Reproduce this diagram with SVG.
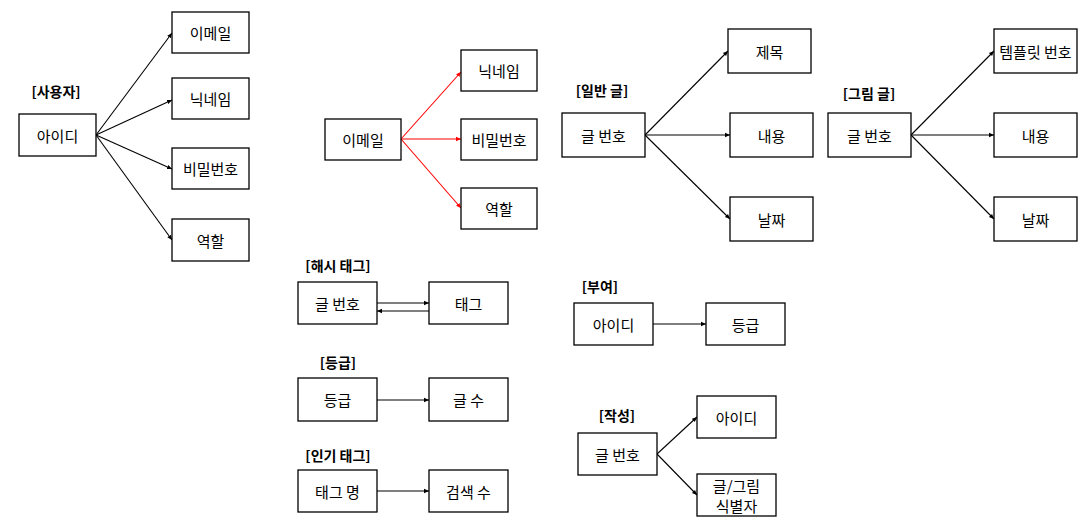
<svg xmlns="http://www.w3.org/2000/svg" width="1085" height="520" viewBox="0 0 1085 520">
<style>
.n rect{fill:#fff;stroke:#000;stroke-width:1.3}
.n text,.lb{font-family:"Noto Sans CJK KR","Noto Sans",sans-serif;font-size:15px;fill:#000;text-anchor:middle;dominant-baseline:central}
.lb{font-weight:bold;font-size:14px}
.c line{stroke:#000;stroke-width:1.1;marker-end:url(#ah)}
.c line.r{stroke:#f00;marker-end:url(#ahr)}
</style>
<defs>
<marker id="ah" markerWidth="6" markerHeight="6" refX="5" refY="3" orient="auto" markerUnits="userSpaceOnUse"><path d="M0,0.8 L5,3 L0,5.2z" fill="#000"/></marker>
<marker id="ahr" markerWidth="6" markerHeight="6" refX="5" refY="3" orient="auto" markerUnits="userSpaceOnUse"><path d="M0,0.8 L5,3 L0,5.2z" fill="#f00"/></marker>
</defs>
<rect width="1085" height="520" fill="#fff"/>
<g id="labels">
<text class="lb" x="56" y="91">[사용자]</text>
<text class="lb" x="602" y="90">[일반 글]</text>
<text class="lb" x="869" y="93">[그림 글]</text>
<text class="lb" x="338" y="265">[해시 태그]</text>
<text class="lb" x="338" y="362">[등급]</text>
<text class="lb" x="338" y="455">[인기 태그]</text>
<text class="lb" x="600" y="286">[부여]</text>
<text class="lb" x="617" y="415">[작성]</text>
</g>
<g class="c" id="connectors">
<line x1="96" y1="135" x2="172" y2="33"/>
<line x1="96" y1="135" x2="172" y2="100"/>
<line x1="96" y1="135" x2="172" y2="169"/>
<line x1="96" y1="135" x2="172" y2="240"/>
<line class="r" x1="401" y1="139" x2="461" y2="72"/>
<line class="r" x1="401" y1="139" x2="461" y2="139"/>
<line class="r" x1="401" y1="139" x2="461" y2="208"/>
<line x1="645" y1="135" x2="728" y2="51"/>
<line x1="645" y1="135" x2="730" y2="135"/>
<line x1="645" y1="135" x2="730" y2="219"/>
<line x1="911" y1="135" x2="994" y2="51"/>
<line x1="911" y1="135" x2="994" y2="135"/>
<line x1="911" y1="135" x2="994" y2="219"/>
<line x1="377" y1="303" x2="429" y2="303"/>
<line x1="429" y1="311" x2="377" y2="311"/>
<line x1="377" y1="400" x2="429" y2="400"/>
<line x1="377" y1="491" x2="429" y2="491"/>
<line x1="653" y1="324" x2="706" y2="324"/>
<line x1="657" y1="454" x2="697" y2="417"/>
<line x1="657" y1="454" x2="697" y2="495"/>
</g>
<g class="n" id="u-id"><rect x="19" y="114" width="77" height="42"/><text x="57.5" y="135">아이디</text></g>
<g class="n" id="u-email"><rect x="172" y="12" width="77" height="41"/><text x="210.5" y="32.5">이메일</text></g>
<g class="n" id="u-nick"><rect x="172" y="78" width="77" height="41"/><text x="210.5" y="98.5">닉네임</text></g>
<g class="n" id="u-pw"><rect x="172" y="148" width="77" height="41"/><text x="210.5" y="168.5">비밀번호</text></g>
<g class="n" id="u-role"><rect x="172" y="219" width="77" height="42"/><text x="210.5" y="240">역할</text></g>
<g class="n" id="e-email"><rect x="325" y="119" width="76" height="41"/><text x="363" y="139.5">이메일</text></g>
<g class="n" id="e-nick"><rect x="461" y="50" width="76" height="41"/><text x="499" y="70.5">닉네임</text></g>
<g class="n" id="e-pw"><rect x="461" y="119" width="76" height="41"/><text x="499" y="139.5">비밀번호</text></g>
<g class="n" id="e-role"><rect x="461" y="188" width="76" height="41"/><text x="499" y="208.5">역할</text></g>
<g class="n" id="p-no"><rect x="562" y="113" width="83" height="44"/><text x="603.5" y="135">글 번호</text></g>
<g class="n" id="p-title"><rect x="728" y="29" width="83" height="44"/><text x="769.5" y="51">제목</text></g>
<g class="n" id="p-body"><rect x="730" y="113" width="83" height="44"/><text x="771.5" y="135">내용</text></g>
<g class="n" id="p-date"><rect x="730" y="197" width="83" height="44"/><text x="771.5" y="219">날짜</text></g>
<g class="n" id="i-no"><rect x="828" y="113" width="83" height="44"/><text x="869.5" y="135">글 번호</text></g>
<g class="n" id="i-tpl"><rect x="994" y="29" width="83" height="44"/><text x="1035.5" y="51">템플릿 번호</text></g>
<g class="n" id="i-body"><rect x="994" y="113" width="83" height="44"/><text x="1035.5" y="135">내용</text></g>
<g class="n" id="i-date"><rect x="994" y="197" width="83" height="44"/><text x="1035.5" y="219">날짜</text></g>
<g class="n" id="h-no"><rect x="298" y="282" width="79" height="42"/><text x="337.5" y="303">글 번호</text></g>
<g class="n" id="h-tag"><rect x="429" y="282" width="79" height="42"/><text x="468.5" y="303">태그</text></g>
<g class="n" id="g-grade"><rect x="298" y="378" width="79" height="43"/><text x="337.5" y="399.5">등급</text></g>
<g class="n" id="g-cnt"><rect x="429" y="378" width="79" height="43"/><text x="468.5" y="399.5">글 수</text></g>
<g class="n" id="t-name"><rect x="298" y="470" width="79" height="42"/><text x="337.5" y="491">태그 명</text></g>
<g class="n" id="t-search"><rect x="429" y="470" width="79" height="42"/><text x="468.5" y="491">검색 수</text></g>
<g class="n" id="b-id"><rect x="574" y="303" width="79" height="42"/><text x="613.5" y="324">아이디</text></g>
<g class="n" id="b-grade"><rect x="706" y="303" width="79" height="42"/><text x="745.5" y="324">등급</text></g>
<g class="n" id="w-no"><rect x="578" y="433" width="79" height="42"/><text x="617.5" y="454">글 번호</text></g>
<g class="n" id="w-id"><rect x="697" y="396" width="79" height="42"/><text x="736.5" y="417">아이디</text></g>
<g class="n" id="w-kind"><rect x="697" y="474" width="79" height="42"/><text x="736.5" y="485">글/그림</text><text x="736.5" y="505">식별자</text></g>
</svg>
